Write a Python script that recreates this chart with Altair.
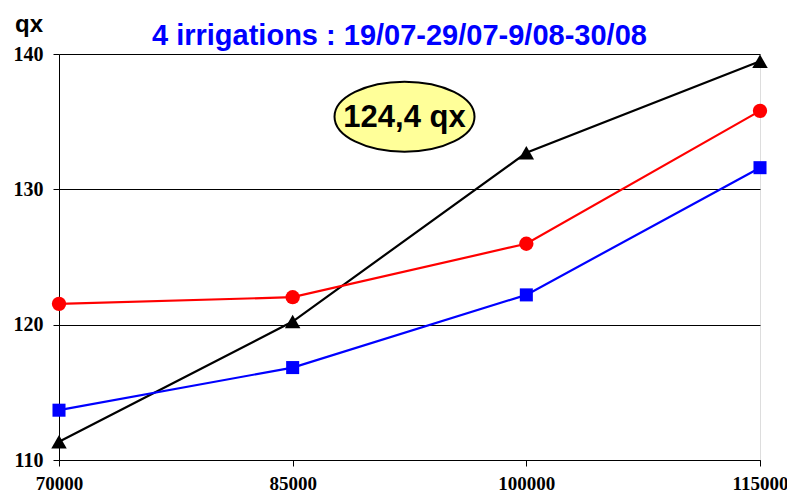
import altair as alt
import pandas as pd

x_values = [70000, 85000, 100000, 115000]
series_names = ["A", "B", "C"]
black_vals = [111.35, 120.23, 132.7, 139.46]
red_vals = [121.54, 122.03, 125.98, 135.8]
blue_vals = [113.68, 116.83, 122.2, 131.6]
y_ticks = [110, 120, 130, 140]
title_text = "4 irrigations : 19/07-29/07-9/08-30/08"
unit_label = "qx"
bubble_text = "124,4 qx"
bubble_pos = (92180, 135.37)

rows = []
for name, vals in zip(series_names, [black_vals, red_vals, blue_vals]):
    for xv, yv in zip(x_values, vals):
        rows.append({"x": xv, "y": yv, "s": name})
df = pd.DataFrame(rows)

xs = alt.Scale(domain=[70000, 115000], nice=False, zero=False)
ys = alt.Scale(domain=[110, 140], nice=False, zero=False)
cs = alt.Scale(domain=series_names, range=["#000000", "#FF0000", "#0000FF"])
ss = alt.Scale(domain=series_names, range=["triangle-up", "circle", "square"])
zs = alt.Scale(domain=series_names, range=[240, 170, 170])

xenc = alt.X("x:Q", scale=xs, axis=alt.Axis(
    values=x_values, format="d", title=None, grid=False,
    labelFont="Liberation Serif", labelFontWeight="bold", labelFontSize=19,
    labelColor="black", labelPadding=8, tickSize=6, tickColor="black",
    domainColor="black", labelFlush=False))
yenc = alt.Y("y:Q", scale=ys, axis=alt.Axis(
    values=y_ticks, title=None,
    grid=True, gridColor="black", gridWidth=1, gridOpacity=1,
    labelFont="Liberation Serif", labelFontWeight="bold", labelFontSize=20,
    labelColor="black", labelPadding=10, tickSize=6, tickColor="black",
    domainColor="black", labelFlush=False))

base = alt.Chart(df)
lines = base.mark_line(strokeWidth=2.2).encode(
    x=xenc, y=yenc, color=alt.Color("s:N", scale=cs, legend=None), detail="s:N")
points = base.mark_point(filled=True, opacity=1).encode(
    x="x:Q", y="y:Q",
    color=alt.Color("s:N", scale=cs, legend=None),
    shape=alt.Shape("s:N", scale=ss, legend=None),
    size=alt.Size("s:N", scale=zs, legend=None))

bdf = pd.DataFrame([{"x": bubble_pos[0], "y": bubble_pos[1], "t": bubble_text}])
ellipse = alt.Chart(bdf).mark_point(
    shape="M-1,0A1,0.5,0,1,1,1,0A1,0.5,0,1,1,-1,0Z",
    size=19600, filled=True, fill="#FFFF99", stroke="black", strokeWidth=2, opacity=1
).encode(x="x:Q", y="y:Q")
btext = alt.Chart(bdf).mark_text(
    font="Liberation Sans", fontSize=31, fontWeight="bold", color="black",
    baseline="middle", align="center", dy=1
).encode(x="x:Q", y="y:Q", text="t:N")

tdf = pd.DataFrame([{"t": title_text}])
title_mark = alt.Chart(tdf).mark_text(
    font="Liberation Sans", fontSize=29, fontWeight="bold", color="#0000FF",
    align="left", baseline="alphabetic", clip=False
).encode(x=alt.value(93), y=alt.value(-9), text="t:N")

qdf = pd.DataFrame([{"t": unit_label}])
unit_mark = alt.Chart(qdf).mark_text(
    font="Liberation Sans", fontSize=24, fontWeight="bold", color="black",
    align="left", baseline="alphabetic", clip=False
).encode(x=alt.value(-44), y=alt.value(-22), text="t:N")

chart = alt.layer(lines, points, ellipse, btext, title_mark, unit_mark).properties(
    width=701, height=406,
    autosize=alt.AutoSizeParams(type="none"),
    padding={"left": 51, "top": 46, "right": 27, "bottom": 34},
).configure_view(stroke=None).configure(background="white")

chart.save("out.html", embed_options={"renderer": "svg", "actions": False})
